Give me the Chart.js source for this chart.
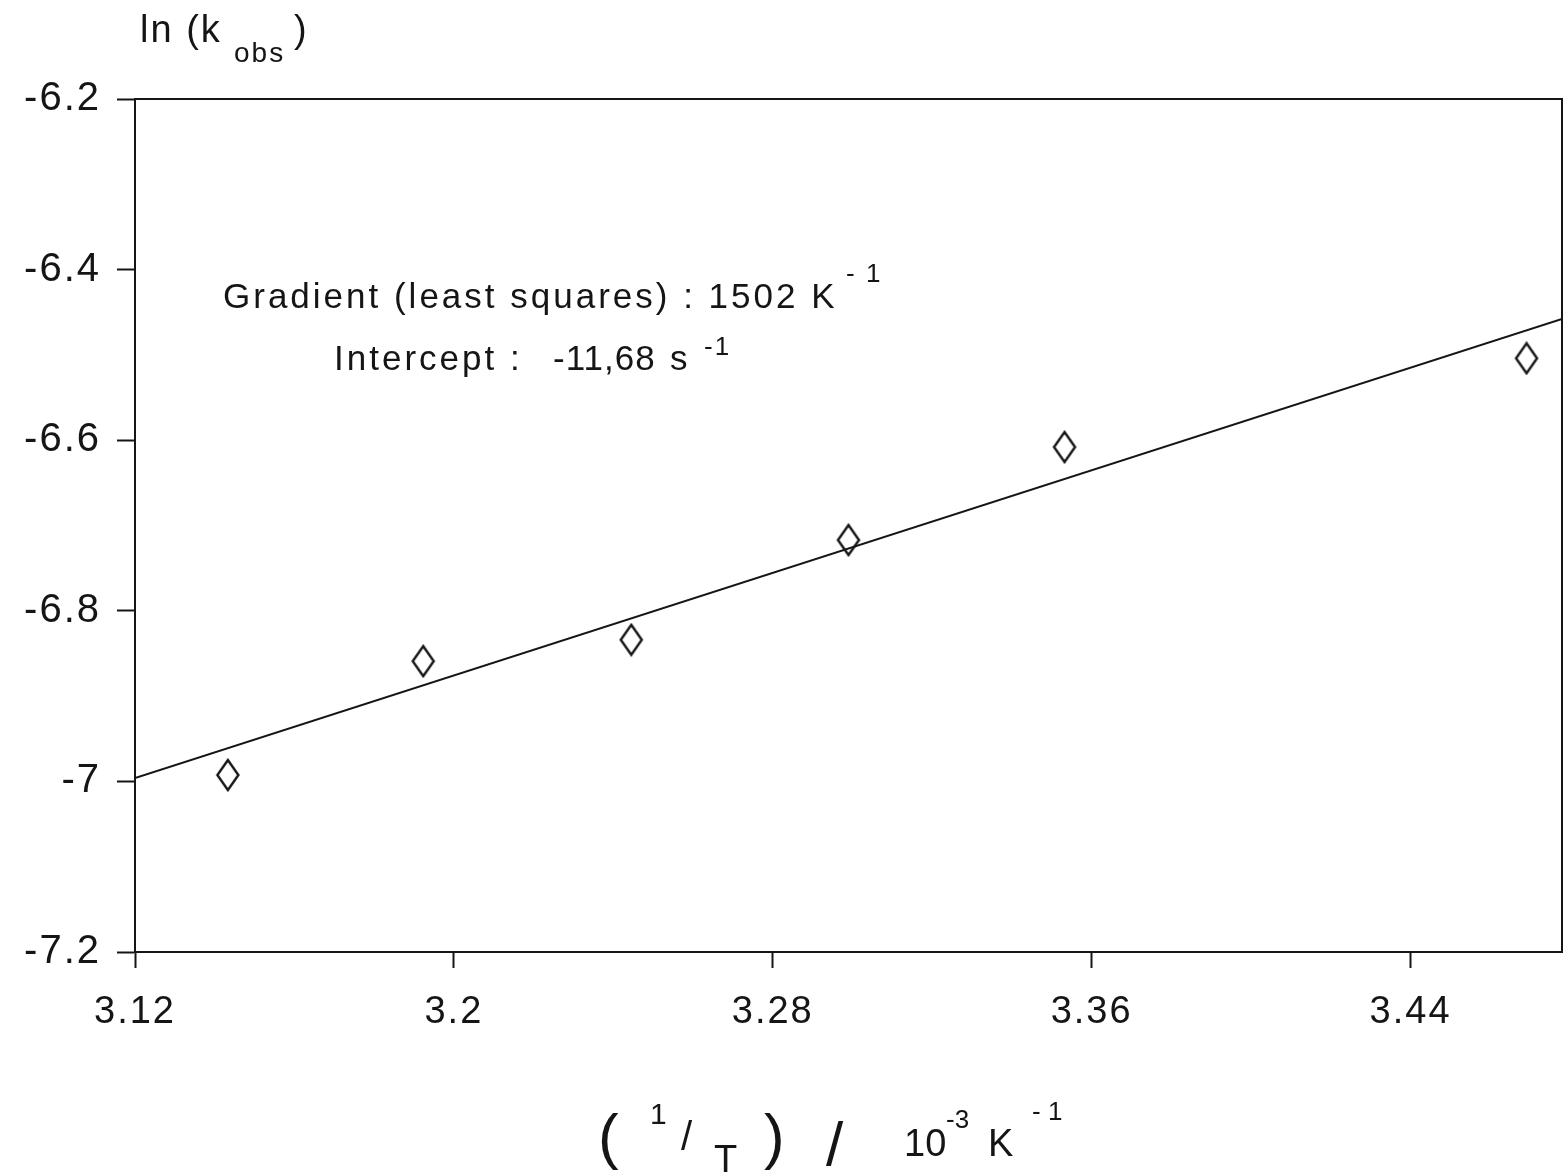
<!DOCTYPE html>
<html>
<head>
<meta charset="utf-8">
<script src="https://cdn.jsdelivr.net/npm/chart.js@4.4.0/dist/chart.umd.min.js"></script>
<style>
html, body { margin: 0; padding: 0; background: #fff; }
</style>
</head>
<body>
<canvas id="myChart" width="1563" height="1174"></canvas>
<script>
// 1/T in 10^-3 K^-1 and ln(k_obs)
let invT = [3.1433, 3.1923, 3.2445, 3.2990, 3.3532, 3.4691];
let lnK = [-6.9925, -6.859, -6.834, -6.717, -6.608, -6.504];
// least squares line, end points
let fitX = [3.12, 3.478];
let fitY = [-6.996, -6.458];
let xTicks = [3.12, 3.2, 3.28, 3.36, 3.44];
let yTicks = [-6.2, -6.4, -6.6, -6.8, -7, -7.2];

let ink = '#151515';
let fam = '"Liberation Sans", Arial, sans-serif';

// tall open diamond used as point marker
let diamond = document.createElement('canvas');
diamond.width = 26;
diamond.height = 34;
let dc = diamond.getContext('2d');
dc.strokeStyle = ink;
dc.lineWidth = 2.4;
dc.beginPath();
dc.moveTo(13, 2);
dc.lineTo(23.5, 17);
dc.lineTo(13, 32);
dc.lineTo(2.5, 17);
dc.closePath();
dc.stroke();

function txt(c, s, x, y, size) {
  c.font = size + 'px ' + fam;
  c.fillText(s, x, y);
}

let extras = {
  id: 'extras',
  beforeDraw(chart) {
    chart.ctx.letterSpacing = '2px';
  },
  afterDraw(chart) {
    let c = chart.ctx, a = chart.chartArea;
    c.save();
    c.strokeStyle = ink;
    c.lineWidth = 2;
    c.beginPath();
    c.moveTo(a.left, a.top);
    c.lineTo(a.right, a.top);
    c.lineTo(a.right, a.bottom);
    c.stroke();

    c.fillStyle = ink;
    c.textAlign = 'left';
    c.textBaseline = 'alphabetic';
    c.letterSpacing = '2px';

    // y axis title
    txt(c, 'ln (k', 140, 42, 38);
    txt(c, 'obs', 234, 62, 28);
    txt(c, ')', 294, 42, 38);

    // fit results
    c.letterSpacing = '3px';
    txt(c, 'Gradient (least squares) : 1502 K', 223, 308, 35);
    txt(c, 'Intercept :', 334, 370, 35);
    c.letterSpacing = '1px';
    txt(c, '-11,68', 553, 370, 35);
    txt(c, 's', 670, 370, 35);
    c.letterSpacing = '2px';
    txt(c, '- 1', 846, 282, 26);
    txt(c, '-1', 704, 355, 26);

    // x axis title
    c.letterSpacing = '0px';
    txt(c, '(', 598, 1157, 62);
    txt(c, '1', 650, 1124, 30);
    txt(c, '/', 681, 1150, 40);
    txt(c, 'T', 714, 1172, 38);
    txt(c, ')', 764, 1157, 62);
    txt(c, '/', 826, 1165, 62);
    txt(c, '10', 904, 1156, 38);
    txt(c, '-3', 946, 1128, 26);
    txt(c, 'K', 988, 1156, 38);
    txt(c, '- 1', 1032, 1120, 26);
    c.restore();
  }
};

let ctx = document.getElementById('myChart');
let myChart = new Chart(ctx, {
  type: 'scatter',
  data: {
    datasets: [{
      label: 'ln k',
      data: invT.map((x, i) => ({ x: x, y: lnK[i] })),
      pointStyle: diamond,
      pointRadius: 12,
      showLine: false,
      borderColor: ink,
      backgroundColor: 'rgba(0,0,0,0)'
    }, {
      type: 'line',
      label: 'fit',
      data: fitX.map((x, i) => ({ x: x, y: fitY[i] })),
      borderColor: ink,
      borderWidth: 2,
      pointRadius: 0,
      fill: false
    }]
  },
  options: {
    responsive: false,
    animation: false,
    layout: { autoPadding: false, padding: { top: 99, right: 1, left: 0, bottom: 0 } },
    plugins: {
      legend: { display: false },
      tooltip: { enabled: false }
    },
    scales: {
      x: {
        type: 'linear',
        min: 3.12,
        max: 3.478,
        afterBuildTicks: s => { s.ticks = xTicks.map(v => ({ value: v })); },
        afterFit: s => { s.height = 222; s.paddingLeft = 0; s.paddingRight = 0; },
        ticks: {
          callback: v => String(v),
          color: ink,
          font: { family: fam, size: 38 },
          padding: 22,
          maxRotation: 0
        },
        grid: { drawOnChartArea: false, drawTicks: true, tickLength: 16, tickColor: ink, tickWidth: 2 },
        border: { color: ink, width: 2 }
      },
      y: {
        min: -7.2,
        max: -6.2,
        afterBuildTicks: s => { s.ticks = yTicks.map(v => ({ value: v })); },
        afterFit: s => { s.width = 135; s.paddingTop = 0; s.paddingBottom = 0; },
        ticks: {
          callback: v => String(v),
          color: ink,
          font: { family: fam, size: 40 },
          padding: 16
        },
        grid: { drawOnChartArea: false, drawTicks: true, tickLength: 18, tickColor: ink, tickWidth: 2 },
        border: { color: ink, width: 2 }
      }
    }
  },
  plugins: [extras]
});
</script>
</body>
</html>
